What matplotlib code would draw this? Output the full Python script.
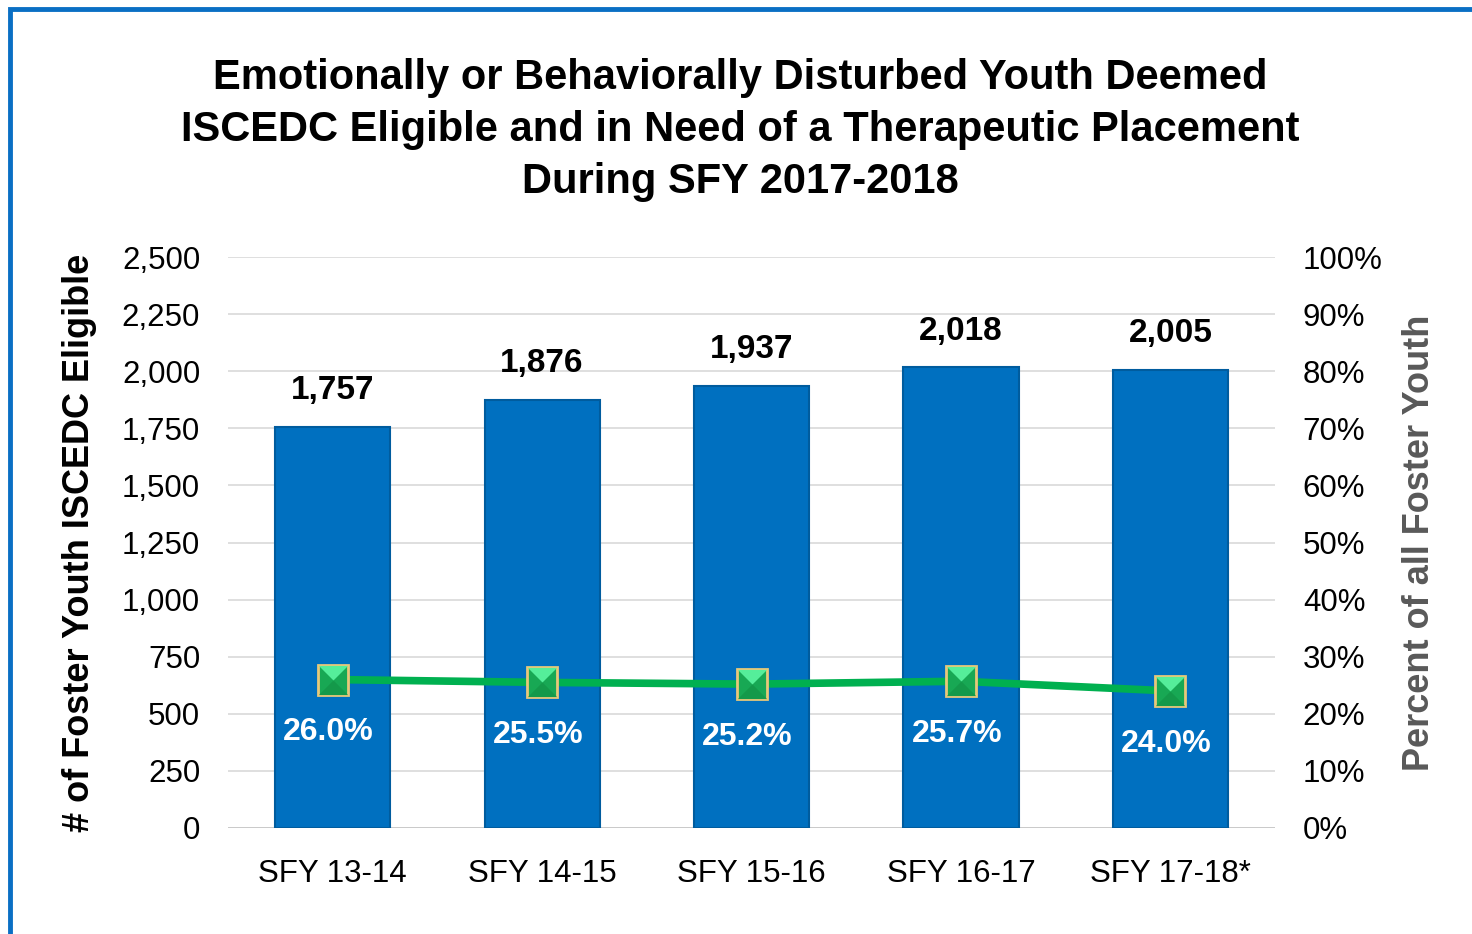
import numpy as np
import matplotlib
matplotlib.use("Agg")
from matplotlib import pyplot as plt
from matplotlib.patches import Rectangle
from matplotlib.ticker import FuncFormatter

# data
years = ["SFY 13-14", "SFY 14-15", "SFY 15-16", "SFY 16-17", "SFY 17-18*"]
eligible = [1757, 1876, 1937, 2018, 2005]
pct_foster = [26.0, 25.5, 25.2, 25.7, 24.0]
left_ticks = [0, 250, 500, 750, 1000, 1250, 1500, 1750, 2000, 2250, 2500]
right_ticks = [0, 10, 20, 30, 40, 50, 60, 70, 80, 90, 100]

plt.rcParams['font.family'] = ['Liberation Sans', 'DejaVu Sans']

fig = plt.figure(figsize=(14.72, 9.34), dpi=100)
ax = fig.add_axes([0.1549, 0.1135, 0.7113, 0.6113])

# blue frame round the slide
fig.patches.append(Rectangle((10/1472, -0.05), 1.1, 1 - 9/934 + 0.05, transform=fig.transFigure,
                             fill=False, edgecolor='#0A6FC4', linewidth=3.5))

x = np.arange(len(years))
bars = ax.bar(x, eligible, width=0.55, color='#0070C0', edgecolor='#005C9E', linewidth=1.5, zorder=3)
for xi, v in zip(x, eligible):
    ax.annotate(f"{v:,}", (xi, v), xytext=(0, 26), textcoords='offset points',
                ha='center', va='center', fontsize=24, fontweight='bold', color='black')

ax.set_xlim(-0.5, 4.5)
ax.set_ylim(0, 2500)
ax.set_yticks(left_ticks)
ax.yaxis.set_major_formatter(FuncFormatter(lambda v, p: f"{int(v):,}"))
ax.set_xticks(x)
ax.set_xticklabels(years)
ax.tick_params(axis='both', length=0, labelsize=22.5, colors='black')
ax.tick_params(axis='y', pad=20)
ax.tick_params(axis='x', pad=22)
ax.grid(axis='y', color='#D9D9D9', linewidth=1.2, zorder=0)
for s in ax.spines.values():
    s.set_visible(False)
ax.axhline(0, color='#C8C8C8', linewidth=2, zorder=2)
ax.set_ylabel("# of Foster Youth ISCEDC Eligible", fontsize=26, fontweight='bold', labelpad=18)

ax2 = ax.twinx()
ax2.set_ylim(0, 100)
ax2.set_yticks(right_ticks)
ax2.yaxis.set_major_formatter(FuncFormatter(lambda v, p: f"{int(v)}%"))
ax2.tick_params(axis='y', length=0, labelsize=22.5, colors='black', pad=20)
for s in ax2.spines.values():
    s.set_visible(False)
ax2.plot(x, pct_foster, color='#00B050', linewidth=5.5, zorder=4,
         marker='s', markersize=22, markerfacecolor='#18A854', markeredgecolor='#E8C87A',
         markeredgewidth=2)
# pyramid look: lighter top facet, darker bottom facet
ax2.plot(x, pct_foster, linestyle='none', marker=[(-1, 1), (1, 1), (0, 0)], markersize=21,
         markerfacecolor='#55EE9A', markeredgecolor='none', zorder=5)
ax2.plot(x, pct_foster, linestyle='none', marker=[(-1, -1), (1, -1), (0, 0)], markersize=21,
         markerfacecolor='#14994A', markeredgecolor='none', zorder=5)
for xi, v in zip(x, pct_foster):
    ax2.annotate(f"{v:.1f}%", (xi, v), xytext=(-3, -38), textcoords='offset points',
                 ha='center', va='center', fontsize=23, fontweight='bold', color='white')
ax2.set_ylabel("Percent of all Foster Youth", fontsize=26, fontweight='bold', color='#595959', labelpad=14)

fig.text(0.503, 0.861, "Emotionally or Behaviorally Disturbed Youth Deemed\n"
         "ISCEDC Eligible and in Need of a Therapeutic Placement\nDuring SFY 2017-2018",
         ha='center', va='center', fontsize=30, fontweight='bold', linespacing=1.38)

fig.savefig("out.png", dpi=100)
